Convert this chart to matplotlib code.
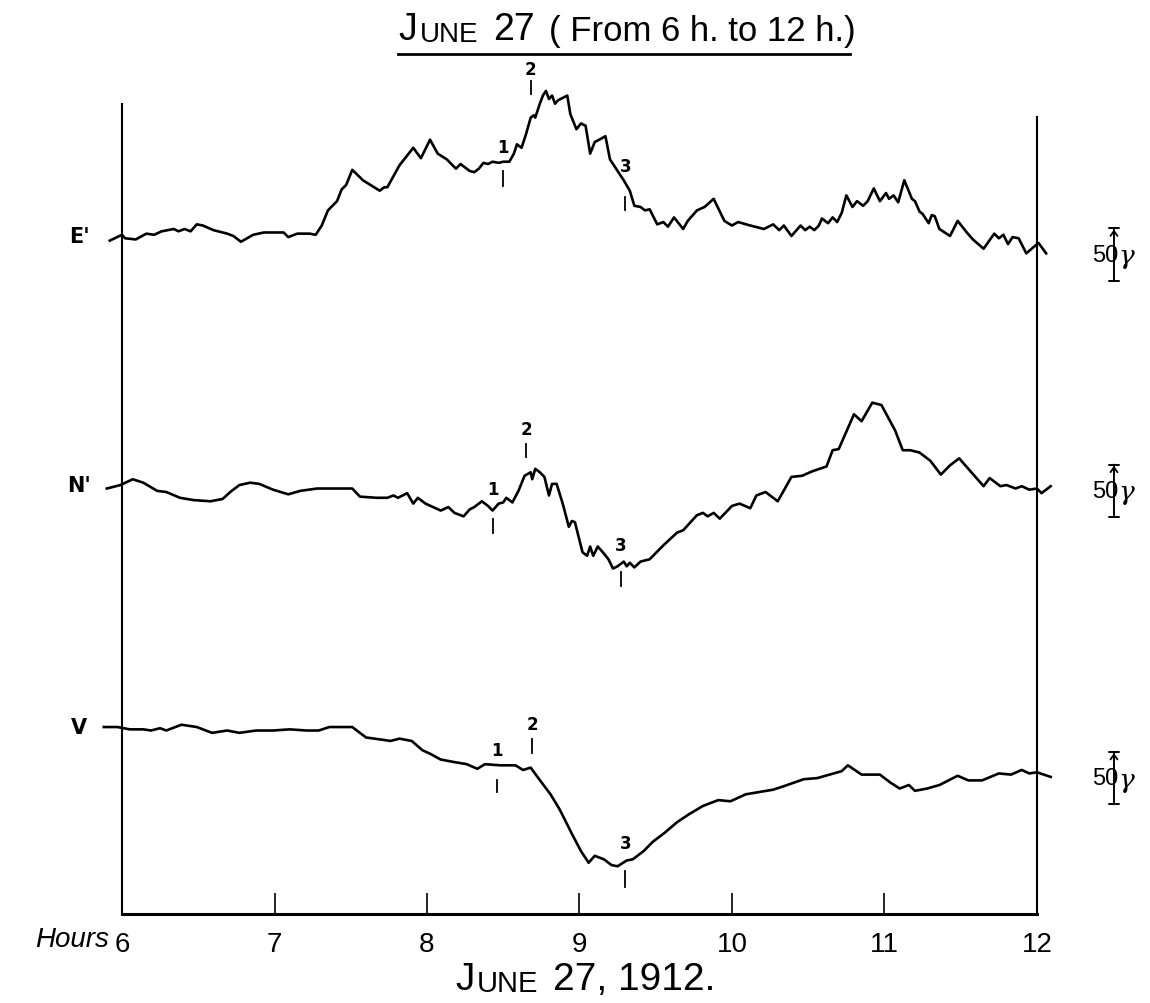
import numpy as np
import matplotlib
matplotlib.use("Agg")
import matplotlib.pyplot as plt
from matplotlib.lines import Line2D

plt.rcParams['font.family'] = ['Liberation Sans', 'DejaVu Sans']

# deflections in gamma, measured from the level of each trace at 6h
e_hours = [5.92, 6.00, 6.02, 6.09, 6.16, 6.21, 6.26, 6.34, 6.37, 6.41,
           6.45, 6.49, 6.53, 6.60, 6.69, 6.73, 6.78, 6.86, 6.93, 7.01,
           7.06, 7.09, 7.15, 7.23, 7.27, 7.31, 7.35, 7.41, 7.44, 7.47,
           7.51, 7.58, 7.69, 7.72, 7.74, 7.82, 7.91, 7.96, 8.02, 8.07,
           8.13, 8.19, 8.22, 8.25, 8.28, 8.31, 8.34, 8.37, 8.40, 8.43,
           8.47, 8.50, 8.54, 8.57, 8.59, 8.62, 8.65, 8.68, 8.70, 8.71,
           8.74, 8.76, 8.78, 8.80, 8.82, 8.84, 8.86, 8.89, 8.92, 8.94,
           8.98, 9.01, 9.04, 9.07, 9.10, 9.13, 9.17, 9.20, 9.24, 9.29,
           9.33, 9.36, 9.40, 9.43, 9.46, 9.51, 9.55, 9.58, 9.62, 9.68,
           9.71, 9.77, 9.82, 9.88, 9.95, 10.00, 10.04, 10.12, 10.21, 10.27,
           10.31, 10.34, 10.39, 10.45, 10.48, 10.51, 10.54, 10.57, 10.59, 10.63,
           10.66, 10.69, 10.72, 10.75, 10.79, 10.82, 10.86, 10.89, 10.93, 10.97,
           11.01, 11.03, 11.06, 11.09, 11.13, 11.18, 11.20, 11.23, 11.25, 11.29,
           11.31, 11.33, 11.36, 11.43, 11.48, 11.54, 11.58, 11.65, 11.72, 11.75,
           11.78, 11.81, 11.84, 11.88, 11.93, 12.01, 12.06]
e_gamma = [-4, 1, -2, -3, 2, 1, 4, 6, 4, 6,
           4, 10, 9, 5, 2, 0, -5, 1, 3, 3,
           3, -1, 2, 2, 1, 9, 22, 30, 40, 44,
           57, 48, 39, 42, 42, 61, 76, 67, 83, 71,
           66, 58, 62, 59, 56, 55, 58, 63, 62, 64,
           63, 64, 64, 71, 79, 76, 88, 102, 104, 102,
           114, 121, 125, 118, 121, 114, 117, 119, 121, 105,
           92, 97, 95, 71, 81, 83, 86, 66, 58, 48,
           39, 26, 25, 22, 23, 10, 12, 8, 16, 6,
           13, 22, 25, 32, 13, 9, 12, 9, 6, 10,
           5, 9, 0, 9, 5, 8, 5, 9, 15, 11,
           16, 12, 20, 35, 25, 30, 26, 30, 41, 30,
           37, 32, 35, 29, 48, 32, 30, 21, 19, 11,
           18, 17, 6, 0, 13, 3, -3, -11, 2, -2,
           1, -7, -1, -2, -15, -6, -15]

n_hours = [5.90, 5.99, 6.07, 6.14, 6.23, 6.29, 6.38, 6.47, 6.58, 6.66,
           6.71, 6.77, 6.84, 6.90, 6.99, 7.09, 7.17, 7.28, 7.39, 7.51,
           7.56, 7.67, 7.74, 7.78, 7.81, 7.87, 7.91, 7.94, 7.99, 8.04,
           8.09, 8.14, 8.18, 8.24, 8.28, 8.31, 8.36, 8.40, 8.43, 8.47,
           8.50, 8.52, 8.56, 8.60, 8.64, 8.68, 8.69, 8.71, 8.74, 8.77,
           8.80, 8.82, 8.85, 8.89, 8.93, 8.95, 8.97, 9.02, 9.05, 9.07,
           9.09, 9.12, 9.16, 9.19, 9.22, 9.25, 9.29, 9.31, 9.33, 9.36,
           9.40, 9.46, 9.55, 9.64, 9.68, 9.77, 9.81, 9.84, 9.88, 9.92,
           10.00, 10.05, 10.12, 10.16, 10.22, 10.30, 10.39, 10.46, 10.53, 10.62,
           10.66, 10.70, 10.80, 10.85, 10.92, 10.98, 11.07, 11.12, 11.17, 11.23,
           11.30, 11.37, 11.43, 11.49, 11.59, 11.65, 11.69, 11.76, 11.80, 11.86,
           11.90, 11.95, 12.00, 12.03, 12.09]
n_gamma = [-3, 0, 5, 2, -5, -6, -11, -13, -14, -12,
           -6, 0, 2, 1, -4, -8, -5, -3, -3, -3,
           -10, -11, -11, -9, -11, -7, -16, -11, -16, -19,
           -22, -19, -24, -27, -21, -19, -14, -18, -22, -16,
           -15, -11, -15, -5, 8, 11, 5, 14, 11, 7,
           -9, 1, 1, -16, -36, -31, -32, -58, -61, -53,
           -61, -53, -59, -64, -72, -70, -66, -70, -67, -71,
           -66, -64, -52, -41, -39, -26, -24, -27, -24, -29,
           -18, -16, -20, -9, -6, -14, 7, 8, 12, 16,
           30, 31, 61, 55, 71, 69, 47, 30, 30, 28,
           21, 9, 17, 23, 8, -1, 6, -1, 0, -3,
           -1, -4, -3, -7, -1]

v_hours = [5.88, 5.97, 6.05, 6.14, 6.19, 6.25, 6.29, 6.39, 6.49, 6.59,
           6.69, 6.77, 6.88, 6.99, 7.10, 7.21, 7.29, 7.36, 7.51, 7.60,
           7.71, 7.76, 7.82, 7.90, 7.97, 8.02, 8.09, 8.17, 8.26, 8.33,
           8.38, 8.48, 8.58, 8.63, 8.68, 8.73, 8.81, 8.87, 8.95, 9.01,
           9.06, 9.10, 9.16, 9.21, 9.25, 9.31, 9.35, 9.42, 9.48, 9.56,
           9.64, 9.72, 9.81, 9.91, 9.99, 10.09, 10.18, 10.27, 10.34, 10.47,
           10.56, 10.64, 10.72, 10.76, 10.85, 10.90, 10.97, 11.04, 11.10, 11.16,
           11.20, 11.28, 11.36, 11.42, 11.48, 11.55, 11.64, 11.75, 11.83, 11.90,
           11.95, 12.00, 12.09]
v_gamma = [0, 0, -2, -2, -3, -1, -3, 2, 0, -5,
           -3, -5, -3, -3, -2, -3, -3, 0, 0, -9,
           -11, -12, -10, -12, -20, -23, -28, -30, -32, -36,
           -32, -33, -33, -37, -35, -44, -58, -71, -92, -107,
           -117, -111, -114, -119, -120, -115, -114, -107, -99, -91,
           -82, -75, -68, -63, -64, -58, -56, -54, -51, -45,
           -44, -41, -38, -33, -41, -41, -41, -48, -53, -50,
           -55, -53, -50, -46, -42, -46, -46, -40, -41, -37,
           -40, -39, -43]

trace_names = ["E'", "N'", "V"]
hour_ticks = [6, 7, 8, 9, 10, 11, 12]
hour_labels = ['6', '7', '8', '9', '10', '11', '12']

# marks 1, 2, 3: (hour, label level, tick from, tick to) in gamma from trace level
e_marks = [(8.50, 77, 43, 56), (8.68, 144, 122, 134), (9.30, 60, 22, 34)]
n_marks = [(8.43, -3, -41, -29), (8.65, 48, 24, 35), (9.27, -52, -87, -75)]
v_marks = [(8.46, -20, -56, -46), (8.69, 3, -22, -10), (9.30, -100, -138, -124)]

# level of each trace above the time axis, gamma
levels = [584.5, 369.8, 161.2]
bars = [(9, -41), (20, -30), (-19, -69)]

fig = plt.figure(figsize=(11.5, 10.04), dpi=100)
ax = fig.add_axes([0.1061, 0.0886, 0.7956, 0.8516])
ax.set_xlim(6, 12)
ax.set_ylim(0, 737)

series = [(e_hours, e_gamma, e_marks), (n_hours, n_gamma, n_marks), (v_hours, v_gamma, v_marks)]
for (hrs, vals, marks), base, name, bar in zip(series, levels, trace_names, bars):
    ax.plot(hrs, np.array(vals) + base, color='black', lw=1.9, clip_on=False,
            solid_joinstyle='round')
    for i, (h, lab, t0, t1) in enumerate(marks):
        ax.text(h, base + lab, str(i + 1), ha='center', va='center', fontsize=12,
                fontweight='bold', family='DejaVu Sans')
        ax.plot([h, h], [base + t0, base + t1], color='black', lw=1.3, clip_on=False)
    ax.text(5.72, base, name, ha='center', va='center', fontsize=15,
            fontweight='bold', family='DejaVu Sans')
    # 50 gamma scale
    ax.annotate('', xy=(12.505, base + bar[0]), xytext=(12.505, base + bar[1]),
                annotation_clip=False,
                arrowprops=dict(arrowstyle='|-|, widthA=0.35, widthB=0.35', lw=1.4, color='black'))
    ax.annotate('', xy=(12.505, base + bar[0] - 1), xytext=(12.505, base + bar[0] - 12),
                annotation_clip=False,
                arrowprops=dict(arrowstyle='->, head_length=0.35, head_width=0.25', lw=1.3,
                                color='black'))
    ax.text(12.535, base + (bar[0] + bar[1]) / 2, '50', ha='right', va='center',
            fontsize=17)
    ax.text(12.535, base + (bar[0] + bar[1]) / 2 - 1, 'γ', ha='left', va='center',
            fontsize=19, style='italic', family='DejaVu Serif')

ax.spines['top'].set_visible(False)
ax.spines['left'].set_bounds(0, 698)
ax.spines['right'].set_bounds(0, 687)
ax.spines['left'].set_linewidth(1.5)
ax.spines['right'].set_linewidth(1.5)
ax.spines['bottom'].set_linewidth(2.2)
ax.set_yticks([])
ax.set_xticks(hour_ticks)
ax.set_xticklabels(hour_labels, fontsize=20)
ax.tick_params(axis='x', direction='in', length=15, width=1.2, pad=12)
ax.annotate('Hours', xy=(6, 0), xytext=(-9, -18), textcoords='offset points',
            ha='right', va='center', fontsize=20, style='italic')

# title in small capitals, built piece by piece
t1 = fig.text(398 / 1150, 1 - 40 / 1004, 'J', fontsize=27, ha='left', va='baseline')
t2 = ax.annotate('UNE', xy=(1, 0), xycoords=t1, xytext=(2, 0), textcoords='offset points',
                 fontsize=20, ha='left', va='bottom')
t3 = ax.annotate('27', xy=(1, 0), xycoords=t2, xytext=(11, 0), textcoords='offset points',
                 fontsize=27, ha='left', va='bottom')
ax.annotate('( From 6 h. to 12 h.)', xy=(1, 0), xycoords=t3, xytext=(10, 0),
            textcoords='offset points', fontsize=25, ha='left', va='bottom')
fig.add_artist(Line2D([398 / 1150, 850 / 1150], [1 - 55 / 1004, 1 - 55 / 1004],
                      color='black', lw=2))

b1 = fig.text(455 / 1150, 1 - 990 / 1004, 'J', fontsize=28, ha='left', va='baseline')
b2 = ax.annotate('UNE', xy=(1, 0), xycoords=b1, xytext=(2, 0), textcoords='offset points',
                 fontsize=21, ha='left', va='bottom')
ax.annotate('27, 1912.', xy=(1, 0), xycoords=b2, xytext=(10, 0), textcoords='offset points',
            fontsize=28, ha='left', va='bottom')

fig.savefig('out.png', dpi=100)
